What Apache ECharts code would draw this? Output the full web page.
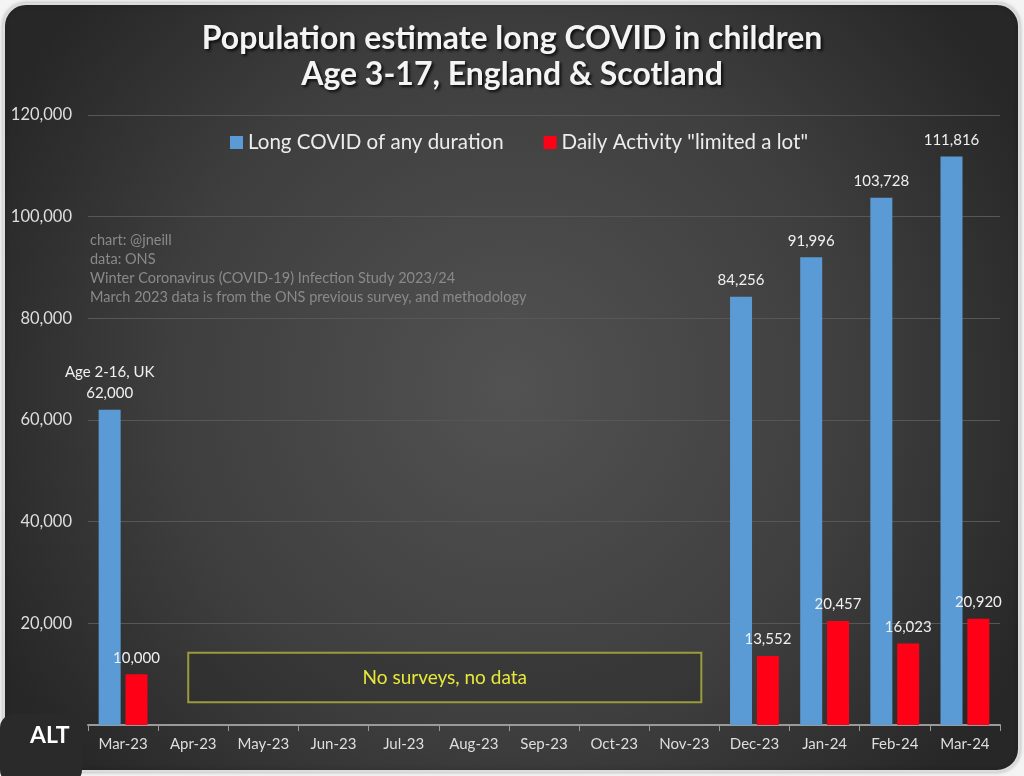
<!DOCTYPE html>
<html>
<head>
<meta charset="utf-8">
<script src="https://cdn.jsdelivr.net/npm/echarts@6/dist/echarts.min.js"></script>
<style>
html,body{margin:0;padding:0;background:#f4f4f4;}
#c{width:1024px;height:776px;}
</style>
</head>
<body>
<div id="c"></div>
<script>
const categories = ['Mar-23','Apr-23','May-23','Jun-23','Jul-23','Aug-23','Sep-23','Oct-23','Nov-23','Dec-23','Jan-24','Feb-24','Mar-24'];
const longCovid = [62000, null, null, null, null, null, null, null, null, 84256, 91996, 103728, 111816];
const limitedALot = [10000, null, null, null, null, null, null, null, null, 13552, 20457, 16023, 20920];
const yTicks = [0, 20000, 40000, 60000, 80000, 100000, 120000];
const titleText = 'Population estimate long COVID in children\nAge 3-17, England & Scotland';
const seriesNames = ['Long COVID of any duration', 'Daily Activity "limited a lot"'];
const noteLines = ['chart: @jneill', 'data: ONS', 'Winter Coronavirus (COVID-19) Infection Study 2023/24', 'March 2023 data is from the ONS previous survey, and methodology'];
const firstBarNote = 'Age 2-16, UK';
const gapNote = 'No surveys, no data';
const gapFrom = 'Apr-23', gapTo = 'Nov-23';
const gapTop = 14200, gapBottom = 4500;

const fmt = v => v.toLocaleString('en-US');
const font = 'Lato, "Open Sans", sans-serif';

const chart = echarts.init(document.getElementById('c'));
const baseGraphic = [
  { id: 'bg', type: 'rect', z: -10, silent: true,
    shape: { x: 4, y: 4, width: 1015, height: 767, r: 22 },
    style: {
      fill: { type: 'radial', x: 0.5, y: 0.5, r: 0.75,
        colorStops: [{ offset: 0, color: '#525252' }, { offset: 0.6, color: '#3e3e3e' }, { offset: 1, color: '#272727' }] },
      stroke: '#dcdcdc', lineWidth: 2,
      shadowColor: 'rgba(0,0,0,0.25)', shadowBlur: 4
    } },
  { id: 'notes', type: 'text', left: 90, top: 231, silent: true,
    style: { text: noteLines.join('\n'), fill: '#8a8a8a', font: '14.5px ' + font, lineHeight: 19 } },
  { id: 'altbg', type: 'rect', left: 0, top: 714, silent: true, z: 10,
    shape: { width: 82, height: 70, r: 14 }, style: { fill: '#2a2a2a' } },
  { id: 'alt', type: 'text', left: 30, top: 724, silent: true, z: 11,
    style: { text: 'ALT', fill: '#ffffff', font: 'bold 23px ' + font } }
];
chart.setOption({
  animation: false,
  textStyle: { fontFamily: font },
  graphic: baseGraphic,
  title: {
    text: titleText,
    left: 'center', top: 16,
    textStyle: { color: '#f4f4f4', fontSize: 32, fontWeight: 'bold', lineHeight: 36, fontFamily: font,
      textShadowColor: 'rgba(0,0,0,0.8)', textShadowBlur: 3, textShadowOffsetX: 2, textShadowOffsetY: 2 }
  },
  legend: {
    top: 127, left: 225, itemGap: 40, itemWidth: 13, itemHeight: 13,
    icon: 'rect',
    textStyle: { color: '#ececec', fontSize: 20.5, fontFamily: font },
    data: seriesNames
  },
  grid: { left: 88, right: 24, top: 115, bottom: 51 },
  xAxis: {
    type: 'category', data: categories,
    axisLine: { lineStyle: { color: '#9a9a9a', width: 2 } },
    axisTick: { show: true, lineStyle: { color: '#9a9a9a' }, length: 6 },
    axisLabel: { color: '#dedede', fontSize: 15, margin: 12, fontFamily: font }
  },
  yAxis: {
    type: 'value', min: 0, max: 120000, interval: 20000,
    axisLabel: { color: '#dedede', fontSize: 16.5, margin: 16, formatter: v => fmt(v), fontFamily: font },
    splitLine: { lineStyle: { color: '#575757', width: 1 } },
    axisLine: { show: false }, axisTick: { show: false }
  },
  series: [
    { name: seriesNames[0], type: 'bar', data: longCovid, barWidth: 22, barGap: '22%',
      itemStyle: { color: '#5b9bd5' },
      label: { show: true, position: 'top', color: '#f0f0f0', fontSize: 15, distance: 6, lineHeight: 21,
        formatter: p => p.dataIndex === 0 ? firstBarNote + '\n' + fmt(p.value) : fmt(p.value) } },
    { name: seriesNames[1], type: 'bar', data: limitedALot, barWidth: 22,
      itemStyle: { color: '#ff0016' },
      label: { show: true, position: 'top', color: '#f0f0f0', fontSize: 15, distance: 9,
        formatter: p => fmt(p.value) } }
  ]
});

// Place the "no data" box through the axes' own scales
const xa = chart.convertToPixel({ xAxisIndex: 0 }, gapFrom);
const xb = chart.convertToPixel({ xAxisIndex: 0 }, gapTo);
const ya = chart.convertToPixel({ yAxisIndex: 0 }, gapTop);
const yb = chart.convertToPixel({ yAxisIndex: 0 }, gapBottom);
const x0 = xa - 5, x1 = xb + 17;
chart.setOption({
  graphic: baseGraphic.concat([
    { id: 'gapbox', type: 'rect', silent: true, z: 5,
      shape: { x: x0, y: ya, width: x1 - x0, height: yb - ya },
      style: { fill: 'rgba(40,40,40,0.35)', stroke: '#9b9b3c', lineWidth: 2 } },
    { id: 'gaptext', type: 'text', silent: true, z: 6,
      x: (x0 + x1) / 2, y: (ya + yb) / 2,
      style: { text: gapNote, fill: '#e8e83a', font: '19px ' + font, align: 'center', verticalAlign: 'middle' } }
  ])
});
</script>
</body>
</html>
